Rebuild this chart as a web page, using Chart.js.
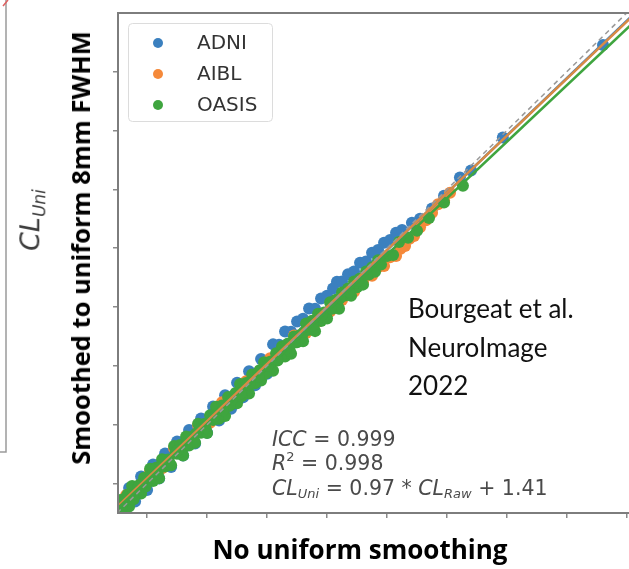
<!DOCTYPE html>
<html>
<head>
<meta charset="utf-8">
<script src="https://cdn.jsdelivr.net/npm/chart.js@4.4.0/dist/chart.umd.min.js"></script>
<style>
  body { margin:0; width:629px; height:569px; overflow:hidden; background:#fff; position:relative; }
  #wrap { position:absolute; left:0; top:0; width:660px; height:569px; }
  .lbl { position:absolute; white-space:nowrap; }
  .rot { transform: translate(-50%,-50%) rotate(-90deg); }
  .ann { font-family:"DejaVu Sans", sans-serif; font-size:20.5px; line-height:24px; height:24px; color:#4a4a4a; }
  .ann sub { font-size:13px; position:relative; top:3px; vertical-align:baseline; }
  .ann sup { font-size:13px; position:relative; top:-9px; vertical-align:baseline; }
  .ref { font-family:Lato, sans-serif; font-size:26px; line-height:38px; color:#111; }
  .ttl { font-family:"Open Sans", sans-serif; font-weight:bold; color:#000; }
</style>
</head>
<body>
<div id="wrap"><canvas id="chart" width="660" height="569"></canvas></div>

<div class="lbl rot" style="left:32px;top:220px;font:italic 27px 'DejaVu Sans';color:#3c3c3c">CL<sub style="font-size:17px">Uni</sub></div>
<div class="lbl rot ttl" style="left:80px;top:248px;font-size:25.5px">Smoothed to uniform 8mm FWHM</div>
<div class="lbl ttl" style="left:360px;top:549px;font-size:26px;transform:translate(-50%,-50%)">No uniform smoothing</div>

<div class="lbl ref" style="left:408px;top:289px">Bourgeat et al.</div>
<div class="lbl ref" style="left:408px;top:328px">NeuroImage</div>
<div class="lbl ref" style="left:408px;top:366px">2022</div>

<div class="lbl ann" style="left:272px;top:427px"><i>ICC</i> = 0.999</div>
<div class="lbl ann" style="left:272px;top:451px"><i>R</i><sup>2</sup> = 0.998</div>
<div class="lbl ann" style="left:272px;top:476px"><i>CL<sub>Uni</sub></i> = 0.97 * <i>CL<sub>Raw</sub></i> + 1.41</div>

<script>
// Centiloid without uniform smoothing (x) vs smoothed to 8mm FWHM (y)
const adniRaw = [-8, -6, -4, -2, 0, 2, 4, 6, 8, 10, 12, 14, 16, 18, 20, 22, 24, 26, 28, 30, 32, 34, 36, 38, 40, 42, 44, 46, 48, 50, 52, 54, 56, 58, 60, 62, 63.3, 65, 67, 69, 71, 73, 75, 77, 79, 81, 83, 85, 88.3, 91, 95, 99, 104.3, 108, 118.6, 152];
const adniUni = [-9.5, -1.5, -6.1, 2.4, -2.2, 6.5, 1.7, 10.2, 5.6, 14.3, 9.5, 18.2, 13.6, 22.1, 17.3, 26.2, 21.4, 30.0, 25.4, 34.3, 29.3, 38.2, 33.4, 42.3, 37.3, 47.3, 47.2, 51.7, 51.6, 55.1, 56.0, 59.5, 59.4, 62.9, 63.8, 66.3, 68.6, 68.7, 71.1, 72.1, 75.0, 75.5, 78.4, 79.4, 81.8, 82.8, 85.2, 86.2, 88.6, 90.0, 93.5, 97.8, 104.0, 106.4, 117.6, 149];

const aiblRaw = [-7, -3, 1, 5, 9, 13, 17, 21, 25, 29, 33, 37, 41, 45, 49, 53, 57, 61, 65, 69, 72, 75, 77, 79, 81, 83, 84.5, 86, 87.5, 89, 91, 93, 95, 97, 99, 101];
const aiblUni = [-4.0, -2.6, 4.3, 5.2, 12.0, 12.9, 19.8, 20.7, 27.6, 28.4, 34.8, 36.2, 42.6, 44.0, 50.3, 51.2, 55.1, 58.5, 62.4, 65.2, 68.6, 70.6, 73.5, 73.9, 76.9, 77.3, 79.8, 80.7, 83.2, 84.1, 87.1, 89.5, 92.0, 94.9, 96.3, 98.8];

const oasisRaw = [-9, -8, -7, -6, -5, -4, -3, -2, -1, 0, 1, 2, 3, 4, 5, 6, 7, 8, 9, 10, 11, 12, 13, 14, 15, 16, 17, 18, 19, 20, 21, 22, 23, 24, 25, 26, 27, 28, 29, 30, 31, 32, 33, 34, 35, 36, 37, 38, 39, 40, 41, 42, 43, 44, 45, 46, 47, 48, 49, 50, 51, 52, 53, 54, 55, 56, 57, 58, 59, 60, 61, 62, 63, 64, 65, 66, 67, 68, 69, 70, 71, 72, 73, 74, 75, 76, 77, 78, 80, 82, 84, 87, 90, 94, 99, 105.3,
  -8.5, -6.5, -4.5, -2.5, -0.5, 1.5, 3.5, 5.5, 7.5, 9.5, 11.5, 13.5, 15.5, 17.5, 19.5, 21.5, 23.5, 25.5, 27.5, 29.5, 31.5, 33.5, 35.5, 37.5, 39.5, 41.5, 43.5, 45.5, 47.5, 49.5, 51.5, 53.5, 55.5, 57.5, 59.5, 61.5, 63.5, 65.5, 67.5, 69.5,
  -7.75, -4.75, -1.75, 1.25, 4.25, 7.25, 10.25, 13.25, 16.25, 19.25, 22.25, 25.25, 28.25, 31.25, 34.25, 37.25, 40.25, 43.25, 46.25, 49.25, 52.25, 55.25, 58.25, 61.25, 64.25, 67.25, 70.25, 73.25];
const oasisUni = [-5.6, -8.7, -4.7, -7.8, -0.8, -3.8, -1.4, -3.4, 2.0, 0.5, 5.0, 0.9, 5.4, 1.8, 8.3, 5.8, 8.2, 6.2, 12.8, 10.1, 13.1, 9.5, 16.0, 12.9, 15.9, 13.9, 20.3, 17.3, 20.2, 17.2, 23.2, 21.6, 26.1, 22.0, 26.5, 23.0, 29.4, 26.9, 29.3, 27.3, 33.8, 31.2, 34.2, 30.6, 37.1, 34.1, 37.0, 35.0, 41.2, 38.4, 41.4, 38.3, 44.3, 42.7, 46.7, 43.2, 47.6, 44.1, 50.0, 48.0, 50.5, 48.4, 54.4, 52.3, 55.3, 51.8, 57.7, 55.2, 58.1, 56.1, 61.6, 59.5, 62.5, 59.4, 64.9, 63.9, 66.3, 63.8, 68.7, 66.7, 69.7, 67.6, 72.1, 71.0, 73.5, 72.0, 75.9, 74.4, 77.3, 77.7, 82.1, 83.5, 85.9, 90.2, 95.5, 101.2,
  -8.2, -3.7, -5.3, -0.4, -1.0, 2.9, 3.4, 7.8, 6.7, 10.6, 11.0, 15.5, 14.4, 18.3, 18.7, 23.1, 22.1, 26.0, 26.4, 30.8, 29.7, 33.7, 34.1, 38.5, 37.4, 41.3, 41.8, 46.2, 45.1, 49.0, 49.4, 53.9, 52.8, 56.7, 57.1, 61.0, 60.5, 64.4, 64.8, 68.2,
  -6.2, -3.9, -0.4, 1.9, 5.4, 7.6, 11.2, 13.4, 16.9, 19.1, 22.7, 24.9, 28.5, 30.6, 34.2, 36.4, 40.0, 42.2, 45.8, 47.9, 51.5, 53.7, 57.3, 59.4, 63.0, 65.2, 68.8, 71.0];

// regression line end points per cohort, and identity line
const fitRaw = [-10, 165];
const fitAdni = [-8.45, 162.2];
const fitAibl = [-7.9, 161.9];
const fitOasis = [-8.6, 159.4];
const identity = [-10, 165];

const blue = '#3b80bf', orange = '#f5893a', green = '#3fa53f';

function pts(xs, ys) { return xs.map((x, i) => ({ x: x, y: ys[i] })); }

const frameAndLegend = {
  id: 'frameAndLegend',
  afterDatasetsDraw(chart) {
    const ctx = chart.ctx, a = chart.chartArea;
    ctx.save();
    // plot frame
    ctx.strokeStyle = '#7d7d7d';
    ctx.lineWidth = 2;
    ctx.strokeRect(a.left, a.top, a.right - a.left, a.bottom - a.top);
    // legend
    ctx.beginPath();
    ctx.roundRect(128.5, 23.5, 144, 98, 4);
    ctx.fillStyle = 'rgba(255,255,255,0.85)';
    ctx.fill();
    ctx.strokeStyle = '#dcdcdc';
    ctx.lineWidth = 1;
    ctx.stroke();
    chart.data.datasets.filter(d => d.inLegend).forEach((d, i) => {
      const y = 43 + i * 31;
      ctx.beginPath();
      ctx.arc(158, y, 5, 0, Math.PI * 2);
      ctx.fillStyle = d.backgroundColor;
      ctx.fill();
      ctx.fillStyle = '#333';
      ctx.font = '20px "DejaVu Sans"';
      ctx.textBaseline = 'middle';
      ctx.fillText(d.label, 197, y + 1);
    });
    // edge of the neighbouring panel
    ctx.strokeStyle = '#9a9a9a';
    ctx.lineWidth = 1.5;
    ctx.beginPath();
    ctx.moveTo(6, 0); ctx.lineTo(6, 452); ctx.lineTo(0, 452);
    ctx.stroke();
    ctx.strokeStyle = '#e06060';
    ctx.beginPath();
    ctx.moveTo(3, 6); ctx.lineTo(8, 0);
    ctx.stroke();
    ctx.restore();
  }
};

new Chart(document.getElementById('chart'), {
  type: 'scatter',
  data: {
    datasets: [
      { label: 'ADNI', inLegend: true, data: pts(adniRaw, adniUni), backgroundColor: blue, pointRadius: 6, borderWidth: 0, order: 6 },
      { label: 'AIBL', inLegend: true, data: pts(aiblRaw, aiblUni), backgroundColor: orange, pointRadius: 6, borderWidth: 0, order: 5 },
      { label: 'OASIS', inLegend: true, data: pts(oasisRaw, oasisUni), backgroundColor: green, pointRadius: 6, borderWidth: 0, order: 4 },
      { label: 'fit ADNI', data: pts(fitRaw, fitAdni), showLine: true, pointRadius: 0, borderColor: blue, borderWidth: 2.5, order: 3 },
      { label: 'fit AIBL', data: pts(fitRaw, fitAibl), showLine: true, pointRadius: 0, borderColor: '#d98a44', borderWidth: 2.5, order: 2 },
      { label: 'fit OASIS', data: pts(fitRaw, fitOasis), showLine: true, pointRadius: 0, borderColor: green, borderWidth: 2.5, order: 1 },
      { label: 'identity', data: pts(identity, identity), showLine: true, pointRadius: 0, borderColor: '#999', borderWidth: 1.5, borderDash: [5, 4], order: 0 }
    ]
  },
  options: {
    responsive: false,
    animation: false,
    layout: { padding: { left: 113, top: 13, right: 18, bottom: 51 } },
    plugins: { legend: { display: false }, tooltip: { enabled: false } },
    scales: {
      x: {
        min: -9.7, max: 165,
        ticks: { display: false, stepSize: 20, includeBounds: false },
        grid: { drawOnChartArea: false, drawTicks: true, tickLength: 5, color: '#8a8a8a', lineWidth: 1.5 },
        border: { display: false }
      },
      y: {
        min: -10, max: 159.9,
        ticks: { display: false, stepSize: 20, includeBounds: false },
        grid: { drawOnChartArea: false, drawTicks: true, tickLength: 5, color: '#8a8a8a', lineWidth: 1.5 },
        border: { display: false }
      }
    }
  },
  plugins: [frameAndLegend]
});
</script>
</body>
</html>
